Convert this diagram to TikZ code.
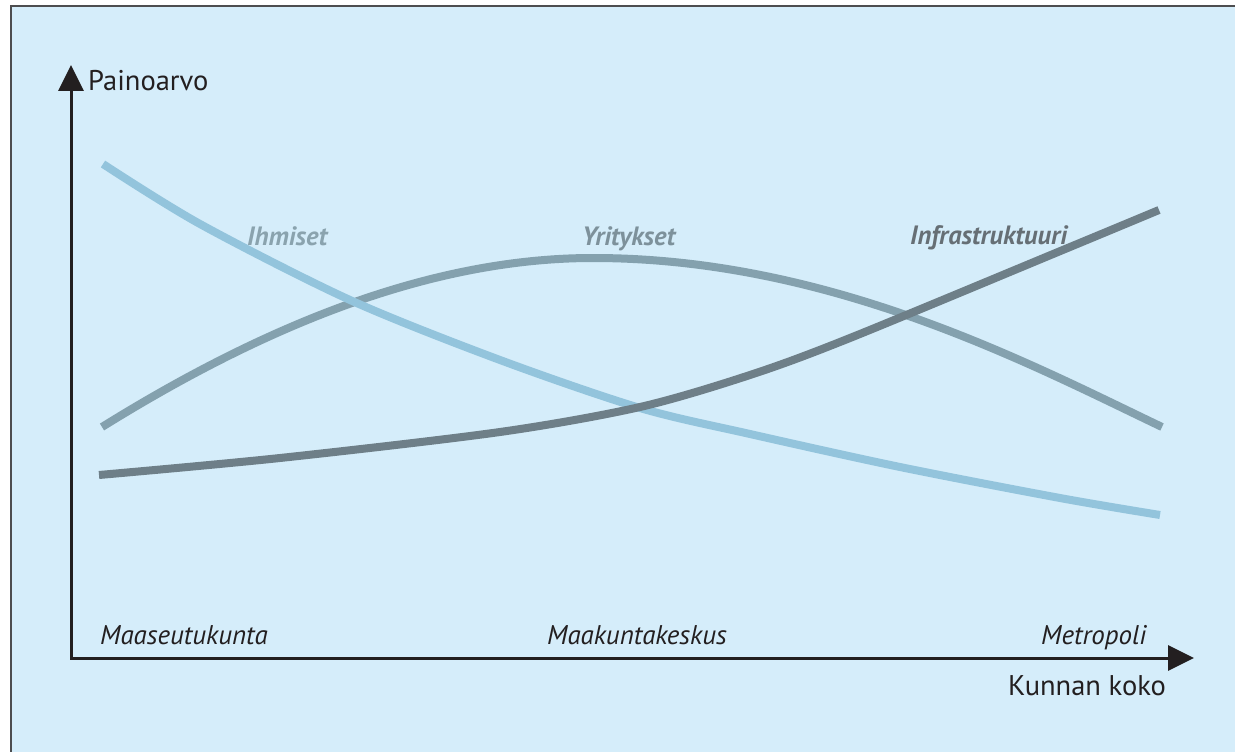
\documentclass[tikz,border=0pt]{standalone}
\usepackage{fontspec}
\setmainfont{PT Sans}
\usetikzlibrary{arrows.meta,positioning}

\definecolor{bgblue}{HTML}{D5EDFA}
\definecolor{framegray}{HTML}{4D4D4F}
\definecolor{axisblack}{HTML}{231F20}
\definecolor{ihmcol}{HTML}{93C4DC}
\definecolor{yritcol}{HTML}{84A1AE}
\definecolor{infracol}{HTML}{6E7F88}
\definecolor{ihmtext}{HTML}{8AA3AE}
\definecolor{yrittext}{HTML}{7D919B}
\definecolor{infratext}{HTML}{666F75}

\begin{document}
\begin{tikzpicture}[x=1pt,y=-1pt,
    curve/.style={line width=8pt},
    lbl/.style={inner sep=0pt, anchor=base west, font=\fontsize{28.5}{32}\selectfont},
    kind/.style={lbl, font=\fontsize{27}{30}\selectfont\itshape},
    series/.style={lbl, font=\fontsize{26.5}{30}\selectfont\bfseries\itshape}]
            \useasboundingbox (0,0) rectangle (1235,752);
            \fill[bgblue] (11,6) rectangle (1235,752);
            \draw[framegray, line width=2pt] (11,752) -- (11,6) -- (1235,6);

            \def\tip{Triangle[length=26pt,width=25pt]} % Arrow head of the axes
            \coordinate (O) at (71,658);
            \coordinate (Ytop) at (71,65);
            \coordinate (Xend) at (1194,658);
            \draw[axisblack, line width=3pt, {\tip}-{\tip}] (Ytop) -- (O) -- (Xend);

            \node[lbl, axisblack] (painoarvo) at (88,91) {Painoarvo};
            \node[lbl, axisblack] (koko) at (1008,695) {Kunnan koko};

            \node[kind, axisblack] (maaseutu) at (100,644) {Maaseutukunta};
            \node[kind, axisblack] (maakunta) at (547,644) {Maakuntakeskus};
            \node[kind, axisblack] (metropoli) at (1041,644) {Metropoli};

            \draw[curve, yritcol] (102,427) .. controls (250,335) and (420,258) .. (593,258)
                .. controls (830,258) and (1030,364) .. (1162,427);
            \draw[curve, ihmcol] plot[smooth] coordinates {(103,164) (200,224) (350,300) (500,360)
                (640,408) (750,434) (900,467) (1060,498) (1160,515)};
            \draw[curve, infracol] plot[smooth] coordinates {(99,475) (280,458) (500,432)
                (640,407) (750,375) (850,338) (1070,247) (1159,210)};

            \node[series, ihmtext] (ihmiset) at (247,245) {Ihmiset};
            \node[series, yrittext] (yritykset) at (582,245) {Yritykset};
            \node[series, infratext] (infra) at (910,244) {Infrastruktuuri};

        \end{tikzpicture}
\end{document}
